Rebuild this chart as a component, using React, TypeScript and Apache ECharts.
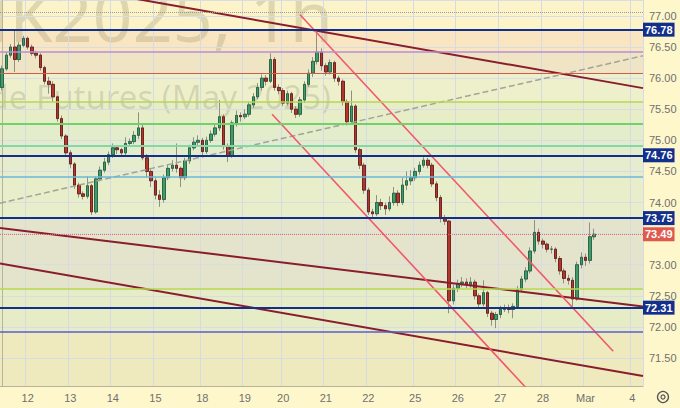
import React, { useEffect, useRef } from 'react';
import * as echarts from 'echarts';

// ---- data ----
const barCount = 151; // hourly slots on the time axis (incl. empty future space)
const dayLabels = ['12', '13', '14', '15', '18', '19', '20', '21', '22', '25', '26', '27', '28', 'Mar', '4'];
const dayLabelBars = [6, 16, 26, 36, 47, 57, 66, 76, 86, 97, 107, 117, 127, 137, 148];

const firstOpen = 75.85;
const closes = [
  76.15, 76.37, 76.5, 76.3, 76.53, 76.64, 76.5, 76.4, 76.37, 76.17,
  75.95, 75.9, 75.7, 75.35, 75.07, 74.8, 74.62, 74.28, 74.14, 74.1,
  74.27, 73.85, 74.38, 74.52, 74.65, 74.77, 74.88, 74.85, 74.8, 74.95,
  74.98, 75.08, 75.2, 74.72, 74.5, 74.35, 74.12, 74.05, 74.4, 74.55,
  74.6, 74.55, 74.4, 74.67, 74.88, 74.97, 75.0, 74.82, 75.0, 75.1,
  75.2, 75.38, 74.9, 74.75, 75.28, 75.4, 75.38, 75.42, 75.57, 75.7,
  75.85, 76.0, 75.95, 76.3, 75.85, 75.8, 75.6, 75.75, 75.5, 75.42,
  75.65, 75.9, 76.08, 76.27, 76.42, 76.2, 76.1, 76.25, 76.0, 75.95,
  75.62, 75.3, 75.55, 74.85, 74.6, 74.2, 73.85, 73.82, 74.0, 73.95,
  73.9, 74.0, 74.15, 74.0, 74.28, 74.35, 74.4, 74.5, 74.6, 74.68,
  74.6, 74.3, 74.08, 73.75, 73.7, 72.42, 72.62, 72.7, 72.72, 72.68,
  72.72, 72.5, 72.37, 72.55, 72.22, 72.12, 72.2, 72.28, 72.3, 72.28,
  72.33, 72.6, 72.77, 72.9, 73.22, 73.52, 73.38, 73.33, 73.25, 73.25,
  73.1, 72.9, 72.78, 72.75, 72.45, 73.0, 73.12, 73.07, 73.45, 73.49,
];
const lows = [
  75.8, 76.12, 76.33, 76.1, 76.26, 76.5, 76.46, 76.36, 76.32, 76.12,
  75.9, 75.75, 75.62, 75.3, 75.02, 74.74, 74.55, 74.22, 74.08, 74.05,
  74.06, 73.8, 73.82, 74.34, 74.48, 74.6, 74.72, 74.78, 74.75, 74.76,
  74.9, 74.94, 75.02, 74.68, 74.4, 74.25, 74.05, 73.93, 74.0, 74.36,
  74.5, 74.48, 74.25, 74.36, 74.62, 74.84, 74.92, 74.76, 74.78, 74.96,
  75.06, 75.15, 74.85, 74.65, 74.72, 75.22, 75.3, 75.34, 75.38, 75.52,
  75.66, 75.8, 75.88, 75.92, 75.8, 75.74, 75.55, 75.56, 75.44, 75.36,
  75.38, 75.6, 75.86, 76.02, 76.22, 76.12, 76.04, 76.06, 75.94, 75.88,
  75.56, 75.24, 75.26, 74.8, 74.54, 74.14, 73.8, 73.76, 73.78, 73.88,
  73.8, 73.86, 73.95, 73.94, 73.96, 74.2, 74.28, 74.35, 74.45, 74.56,
  74.55, 74.25, 74.02, 73.68, 73.64, 72.22, 72.36, 72.56, 72.64, 72.62,
  72.63, 72.44, 72.3, 72.33, 72.16, 72.02, 71.98, 72.14, 72.24, 72.22,
  72.14, 72.3, 72.56, 72.72, 72.86, 73.18, 73.32, 73.26, 73.2, 73.18,
  73.04, 72.84, 72.7, 72.68, 72.33, 72.42, 72.94, 72.98, 73.02, 73.4,
];
const highs = [
  76.2, 76.42, 76.55, 76.78, 76.58, 76.68, 76.67, 76.54, 76.44, 76.4,
  76.2, 76.02, 75.95, 75.72, 75.4, 75.1, 74.84, 74.65, 74.32, 74.18,
  74.42, 74.3, 74.42, 74.58, 74.72, 74.82, 74.95, 74.92, 74.88, 75.05,
  75.03, 75.15, 75.45, 75.25, 74.78, 74.55, 74.4, 74.2, 74.45, 74.62,
  74.68, 74.95, 74.58, 74.72, 74.93, 75.05, 75.08, 75.04, 75.06, 75.16,
  75.26, 75.65, 75.42, 74.95, 75.32, 75.48, 75.45, 75.5, 75.62, 75.76,
  75.92, 76.06, 76.05, 76.4, 76.34, 75.9, 75.84, 75.8, 75.78, 75.55,
  75.7, 75.95, 76.14, 76.34, 76.72, 76.48, 76.24, 76.3, 76.28, 76.04,
  75.98, 75.66, 75.8, 75.58, 74.88, 74.64, 74.24, 73.9, 74.12, 74.06,
  74.0, 74.1, 74.25, 74.2, 74.4, 74.5, 74.52, 74.56, 74.66, 74.73,
  74.72, 74.64, 74.34, 74.12, 73.8, 73.72, 72.68, 72.76, 72.8, 72.78,
  72.8, 72.76, 72.54, 72.75, 72.58, 72.26, 72.24, 72.34, 72.36, 72.36,
  72.38, 72.66, 72.82, 72.96, 73.28, 73.72, 73.58, 73.42, 73.36, 73.3,
  73.28, 73.14, 72.94, 72.84, 72.8, 73.05, 73.2, 73.18, 73.68, 73.58,
];

const priceMin = 71.05;
const priceMax = 77.257;
const lastPrice = 73.49;
const keyLevels = [76.78, 74.76, 73.75, 72.31];
const minorLevels = [77.06, 76.43, 76.08, 75.62, 75.27, 74.91, 74.42, 72.62, 71.92];
const bandEdges = [77.257, 76.78, 76.43, 76.08, 75.62, 75.27, 74.76, 74.42, 73.75, 72.62, 71.92, 71.05];

// trend lines: anchors as [bar index, price]
const maroonLines = [
  [[-0.5, 77.66], [150.5, 75.84]],
  [[-0.5, 73.59], [150.5, 72.33]],
  [[-0.5, 73.02], [150.5, 71.21]],
];
const channelLines = [
  [[69.96, 77.02], [143.5, 71.61]],
  [[63.4, 75.42], [124.0, 70.95]],
];
const dashedLine = [[-0.5, 73.99], [150.5, 76.36]];

const watermarkTitle = 'BRNK2025, 1h';
const watermarkSub = 'Brent Crude Futures (May 2025)';

// ---- styles ----
const minorStyles = [
  { color: '#9a9a9a', width: 1, type: 'dotted' },
  { color: '#b48ed8', width: 1.5, type: 'solid' },
  { color: '#cf5a4e', width: 1, type: 'solid' },
  { color: '#b5d653', width: 1.5, type: 'solid' },
  { color: '#6fd36a', width: 2, type: 'solid' },
  { color: '#84d8a8', width: 2, type: 'solid' },
  { color: '#69b9da', width: 1.5, type: 'solid' },
  { color: '#b5d653', width: 1.5, type: 'solid' },
  { color: '#5a5cd2', width: 1.5, type: 'solid' },
];
const bandColors = [
  '#fcf3c8', '#f9e6c0', '#efe5c5', '#eef0cc', '#e7eec7', '#e4edcb',
  '#e6edce', '#e8edca', '#e3e4cb', '#e5ecc6', '#eeeabe',
];
const FONT = '"Liberation Sans", Arial, sans-serif';

export default function App() {
  const ref = useRef<HTMLDivElement>(null);
  useEffect(() => {
    if (!ref.current) return;
    const chart = echarts.init(ref.current, undefined, { renderer: 'svg' });
    const categories = Array.from({ length: barCount }, (_, i) => String(i));
    const opens = closes.map((c, i) => (i === 0 ? firstOpen : closes[i - 1]));
    const wickData = closes.map((c, i) => [opens[i], c, lows[i], highs[i]]);
    const bodyData = closes.map((c, i) => [opens[i], c, Math.min(opens[i], c), Math.max(opens[i], c)]);

    const bands = bandColors.map((col, i) => [
      { yAxis: bandEdges[i], itemStyle: { color: col } },
      { yAxis: bandEdges[i + 1] },
    ]);

    const hLines: any[] = [];
    minorLevels.forEach((p, i) => {
      hLines.push({ yAxis: p, lineStyle: minorStyles[i], label: { show: false } });
    });
    keyLevels.forEach((p) => {
      hLines.push({
        yAxis: p,
        lineStyle: { color: '#132f8c', width: 2, type: 'solid' },
        label: {
          show: true, position: 'end', distance: 0, formatter: p.toFixed(2),
          backgroundColor: '#132f8c', color: '#fff', fontWeight: 'bold', fontSize: 11,
          fontFamily: FONT, padding: [2, 2, 1, 2],
        },
      });
    });
    hLines.push({
      yAxis: lastPrice,
      lineStyle: { color: '#e36a66', width: 1, type: 'dotted' },
      label: {
        show: true, position: 'end', distance: 0, formatter: lastPrice.toFixed(2),
        backgroundColor: '#df5a4e', color: '#fff', fontWeight: 'bold', fontSize: 11,
        fontFamily: FONT, padding: [2, 2, 1, 2],
      },
    });

    const lineSeries = (pts: number[][], color: string, width: number, type: string) => ({
      type: 'line', xAxisIndex: 1, yAxisIndex: 0, data: pts, symbol: 'none', clip: true,
      silent: true, z: 4, lineStyle: { color, width, type },
    });

    const option: any = {
      animation: false,
      backgroundColor: '#fdf7cb',
      grid: { left: 0, right: 37, top: 0, bottom: 22, containLabel: false },
      xAxis: [
        {
          type: 'category', data: categories, boundaryGap: true, z: 1,
          axisLine: { show: true, lineStyle: { color: '#b8b39c', width: 1 } },
          axisTick: { show: false },
          axisLabel: {
            interval: (i: number) => dayLabelBars.includes(i),
            formatter: (v: string) => {
              const k = dayLabelBars.indexOf(Number(v));
              return k >= 0 ? dayLabels[k] : '';
            },
            color: '#707070', fontSize: 11, fontFamily: FONT, margin: 6,
          },
          splitLine: {
            show: true, interval: (i: number) => dayLabelBars.includes(i),
            lineStyle: { color: '#d5dae3', width: 1 },
          },
        },
        { type: 'value', min: -0.5, max: barCount - 0.5, show: false },
      ],
      yAxis: {
        type: 'value', position: 'right', min: priceMin, max: priceMax, splitNumber: 12, z: 1,
        axisLine: { show: true, lineStyle: { color: '#b8b39c', width: 1 } },
        axisTick: { show: false },
        axisLabel: {
          showMinLabel: false, showMaxLabel: false,
          formatter: (v: number) => (Math.abs(v - lastPrice) < 0.1 ? '' : v.toFixed(2)),
          color: '#707070', fontSize: 11, fontFamily: FONT, margin: 6,
        },
        splitLine: { show: true, lineStyle: { color: '#d8dce4', width: 1 } },
      },
      graphic: {
        elements: [
          {
            type: 'text', z: 1, silent: true, x: 333, y: 50,
            style: {
              text: watermarkTitle, textAlign: 'right', textVerticalAlign: 'bottom',
              font: '70px "Noto Sans", sans-serif', fill: 'rgba(70,70,40,0.16)',
            },
          },
          {
            type: 'text', z: 1, silent: true, x: 331, y: 113,
            style: {
              text: watermarkSub, textAlign: 'right', textVerticalAlign: 'bottom',
              font: '33px "Noto Sans", sans-serif', fill: 'rgba(70,70,40,0.16)',
            },
          },
          {
            type: 'circle', shape: { cx: 663, cy: 397, r: 5.5 },
            style: { fill: 'none', stroke: '#555', lineWidth: 1.3 },
          },
          {
            type: 'circle', shape: { cx: 663, cy: 397, r: 2 },
            style: { fill: 'none', stroke: '#555', lineWidth: 1.2 },
          },
        ],
      },
      series: [
        {
          type: 'candlestick', name: 'wicks', data: wickData, barWidth: 3, silent: true,
          itemStyle: {
            color: 'transparent', color0: 'transparent',
            borderColor: '#8e9088', borderColor0: '#8e9088', borderWidth: 1,
          },
          markArea: { silent: true, z: 0, data: bands },
          markLine: { silent: true, symbol: ['none', 'none'], data: hLines, z: 5 },
        },
        {
          type: 'candlestick', name: 'BRN', data: bodyData, barWidth: 3, silent: true,
          itemStyle: {
            color: '#3f9b6b', color0: '#b4352b',
            borderColor: '#1f5c3b', borderColor0: '#5e1912', borderWidth: 0.8,
          },
        },
        lineSeries(dashedLine, '#a3a39a', 1.5, 'dashed'),
        ...maroonLines.map((l) => lineSeries(l, '#8a1d2b', 2, 'solid')),
        ...channelLines.map((l) => lineSeries(l, '#f2576c', 1.6, 'solid')),
      ],
    };
    chart.setOption(option);
    return () => chart.dispose();
  }, []);
  return (
    <div
      ref={ref}
      style={{ position: 'fixed', left: 0, top: 0, width: 680, height: 408 }}
    />
  );
}
